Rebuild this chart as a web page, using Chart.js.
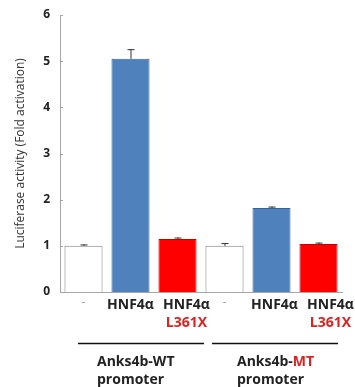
<!DOCTYPE html>
<html>
<head>
<meta charset="utf-8">
<script src="https://cdn.jsdelivr.net/npm/chart.js@4"></script>
<style>
  body { margin: 0; background: #fff; }
</style>
</head>
<body>
<canvas id="myChart" width="355" height="387"></canvas>
<script>
const categorias = ['-', 'HNF4α', 'HNF4α L361X', '-', 'HNF4α', 'HNF4α L361X'];
const valores = [1.0, 5.05, 1.15, 1.0, 1.82, 1.04];
const errores = [0.03, 0.21, 0.03, 0.06, 0.03, 0.03];
const grupos = ['Anks4b-WT', 'Anks4b-MT'];
const colores = ['#ffffff', '#4f81bd', '#ff0000', '#ffffff', '#4f81bd', '#ff0000'];
const bordes = ['#808080', '#3b6495', '#c00000', '#808080', '#3b6495', '#c00000'];

const fuente = '"Open Sans", "Liberation Sans", sans-serif';
// desplazamiento horizontal de cada etiqueta respecto al centro de la barra
const desplaza = [0, 0, 9, 0, 3, 12];

const extras = {
  id: 'extras',
  afterDatasetsDraw(chart) {
    const ctx = chart.ctx;
    const x = chart.scales.x;
    const y = chart.scales.y;
    const meta = chart.getDatasetMeta(0);
    ctx.save();
    // barras de error
    ctx.strokeStyle = '#333';
    ctx.lineWidth = 1;
    meta.data.forEach((bar, i) => {
      const top = y.getPixelForValue(valores[i]);
      const e = y.getPixelForValue(valores[i] + errores[i]);
      ctx.beginPath();
      ctx.moveTo(bar.x + 0.5, top);
      ctx.lineTo(bar.x + 0.5, e);
      ctx.moveTo(bar.x - 3, e + 0.5);
      ctx.lineTo(bar.x + 4, e + 0.5);
      ctx.stroke();
    });
    // marcas del eje y hacia dentro
    ctx.strokeStyle = '#a6a6a6';
    for (let v = 0; v <= 6; v++) {
      const py = Math.round(y.getPixelForValue(v)) + 0.5;
      ctx.beginPath();
      ctx.moveTo(chart.chartArea.left, py);
      ctx.lineTo(chart.chartArea.left + 3, py);
      ctx.stroke();
    }
    // etiquetas del eje x
    ctx.textAlign = 'center';
    ctx.textBaseline = 'middle';
    categorias.forEach((c, i) => {
      const px = x.getPixelForValue(i) + desplaza[i];
      if (c === '-') {
        ctx.fillStyle = '#888';
        ctx.font = '11px ' + fuente;
        ctx.fillText('-', px, 302);
      } else {
        const partes = c.split(' ');
        ctx.fillStyle = '#222';
        ctx.font = 'bold 14px ' + fuente;
        ctx.fillText(partes[0], px, 305);
        if (partes[1]) {
          ctx.fillStyle = '#e02020';
          ctx.fillText(partes[1], px, 323);
        }
      }
    });
    // líneas y nombres de grupo
    const tramos = [[78, 204], [212, 338]];
    const inicioTexto = [97, 237];
    ctx.strokeStyle = '#111';
    ctx.lineWidth = 1.5;
    tramos.forEach((t, g) => {
      ctx.beginPath();
      ctx.moveTo(t[0], 343.5);
      ctx.lineTo(t[1], 343.5);
      ctx.stroke();
      ctx.font = 'bold 14px ' + fuente;
      const nombre = grupos[g];
      const a = nombre.split('-')[0] + '-';
      const b = nombre.split('-')[1];
      const wa = ctx.measureText(a).width;
      const x0 = inicioTexto[g];
      ctx.textAlign = 'left';
      ctx.fillStyle = '#222';
      ctx.fillText(a, x0, 362);
      ctx.fillStyle = g === 1 ? '#e02020' : '#222';
      ctx.fillText(b, x0 + wa, 362);
      ctx.fillStyle = '#222';
      ctx.fillText('promoter', x0, 380);
    });
    ctx.restore();
  }
};

const myChart = new Chart('myChart', {
  type: 'bar',
  data: {
    labels: categorias,
    datasets: [{
      data: valores,
      backgroundColor: colores,
      borderColor: bordes,
      borderWidth: 1,
      categoryPercentage: 1,
      barPercentage: 0.81
    }]
  },
  options: {
    responsive: false,
    animation: false,
    devicePixelRatio: 1,
    layout: { padding: { top: 15, right: 13, left: 0, bottom: 0 } },
    plugins: { legend: { display: false }, tooltip: { enabled: false } },
    scales: {
      x: {
        ticks: { display: false },
        grid: { display: false },
        border: { color: '#a6a6a6' },
        afterFit: (s) => { s.height = 95; }
      },
      y: {
        min: 0,
        max: 6,
        ticks: {
          stepSize: 1,
          color: '#222',
          font: { family: fuente, size: 12, weight: 'bold' },
          padding: 2
        },
        grid: { display: false },
        border: { color: '#a6a6a6' },
        title: {
          display: true,
          text: 'Luciferase activity (Fold activation)',
          color: '#333',
          font: { family: fuente, size: 12 },
          padding: { top: 13, bottom: 4 }
        },
        afterFit: (s) => { s.width = 60; }
      }
    }
  },
  plugins: [extras]
});
</script>
</body>
</html>
